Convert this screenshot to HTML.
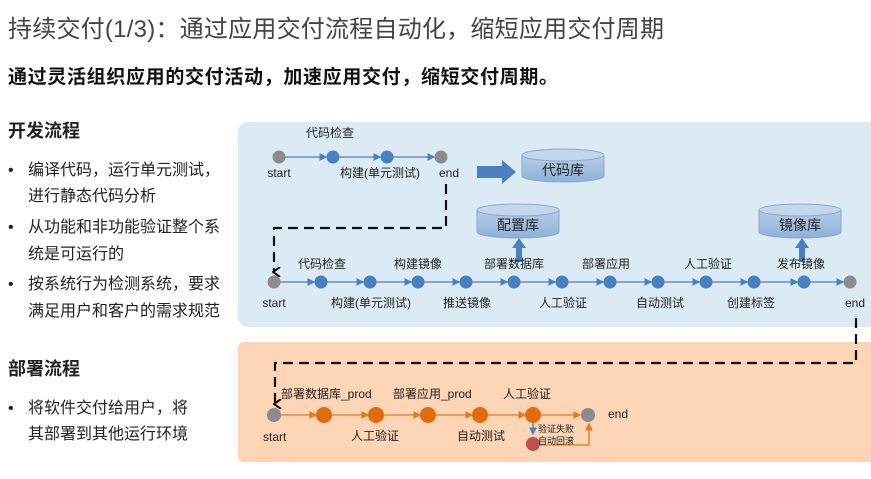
<!DOCTYPE html>
<html><head><meta charset="utf-8"><style>
body{margin:0;width:871px;height:474px;background:#fff;overflow:hidden;font-family:"Liberation Sans","Noto Sans CJK SC",sans-serif;}
svg text{font-family:"Liberation Sans","Noto Sans CJK SC",sans-serif;}
</style></head><body>
<svg width="871" height="474" viewBox="0 0 871 474" xmlns="http://www.w3.org/2000/svg">
<defs>
<marker id="ab" markerWidth="6" markerHeight="6" refX="5" refY="3" orient="auto"><path d="M0,0 L6,3 L0,6 z" fill="#4a7fc1"/></marker>
<marker id="ao" markerWidth="6" markerHeight="6" refX="5" refY="3" orient="auto"><path d="M0,0 L6,3 L0,6 z" fill="#e57a1a"/></marker>
<marker id="ak" markerWidth="10" markerHeight="10" refX="5" refY="8" orient="auto-start-reverse" markerUnits="userSpaceOnUse"><path d="M0,2 L5,9 L10,2" fill="none" stroke="#111" stroke-width="2"/></marker>
<linearGradient id="cy" x1="0" y1="0" x2="0" y2="1"><stop offset="0" stop-color="#b7cde6"/><stop offset="1" stop-color="#8fb0d8"/></linearGradient>
</defs>
<text x="8" y="37" font-size="24" fill="#444" textLength="656">持续交付(1/3)：通过应用交付流程自动化，缩短应用交付周期</text>
<text x="8" y="83" font-size="19" font-weight="bold" fill="#111" textLength="550">通过灵活组织应用的交付活动，加速应用交付，缩短交付周期。</text>
<g font-size="16" fill="#222">
<text x="8" y="137" font-weight="bold" font-size="18">开发流程</text>
<text x="8" y="175">•</text><text x="28" y="175">编译代码，运行单元测试，</text>
<text x="28" y="201">进行静态代码分析</text>
<text x="8" y="232">•</text><text x="28" y="232">从功能和非功能验证整个系</text>
<text x="28" y="259">统是可运行的</text>
<text x="8" y="289">•</text><text x="28" y="289">按系统行为检测系统，要求</text>
<text x="28" y="316">满足用户和客户的需求规范</text>
<text x="8" y="375" font-weight="bold" font-size="18">部署流程</text>
<text x="8" y="413">•</text><text x="28" y="413">将软件交付给用户，将</text>
<text x="28" y="439">其部署到其他运行环境</text>
</g>
<rect x="238" y="122" width="640" height="205" rx="10" fill="#dbeaf3"/>
<rect x="238" y="342" width="640" height="120" rx="6" fill="#fbd5b5"/>
<!-- row1 -->
<g stroke="#4a7fc1" stroke-width="1.3" marker-end="url(#ab)">
<line x1="285" y1="157" x2="326" y2="157"/><line x1="339" y1="157" x2="380" y2="157"/><line x1="393" y1="157" x2="434" y2="157"/>
</g>
<circle cx="279" cy="157" r="6.5" fill="#8c8c8c"/><circle cx="333" cy="157" r="6.5" fill="#4a7fc1"/><circle cx="387" cy="157" r="6.5" fill="#4a7fc1"/><circle cx="441" cy="157" r="6.5" fill="#8c8c8c"/>
<g font-size="12" fill="#222" text-anchor="middle">
<text x="330" y="137">代码检查</text><text x="279" y="177">start</text><text x="380" y="177">构建(单元测试)</text><text x="449" y="177">end</text>
</g>
<path d="M477,166 H502 V160 L516,172 L502,184 V178 H477 z" fill="#4a7fc1"/>
<g stroke="#8aa9cf" fill="url(#cy)">
<path d="M522,155 V176 A41,6 0 0 0 604,176 V155"/><ellipse cx="563" cy="155" rx="41" ry="6" fill="#c4d6ec"/>
<path d="M477,210 V232 A41,6 0 0 0 559,232 V210"/><ellipse cx="518" cy="210" rx="41" ry="6" fill="#c4d6ec"/>
<path d="M759,210 V232 A41,6 0 0 0 841,232 V210"/><ellipse cx="800" cy="210" rx="41" ry="6" fill="#c4d6ec"/>
</g>
<g font-size="14" fill="#222" text-anchor="middle"><text x="563" y="175">代码库</text><text x="518" y="230">配置库</text><text x="800" y="230">镜像库</text></g>
<path d="M516,262 V248 H512 L519,238 L526,248 H522 V262 z" fill="#4a7fc1"/>
<path d="M799,262 V248 H795 L802,238 L809,248 H805 V262 z" fill="#4a7fc1"/>
<!-- dashed -->
<path d="M446,184 V228 H274 V272" fill="none" stroke="#111" stroke-width="2.2" stroke-dasharray="10,6" marker-end="url(#ak)"/>
<path d="M856,318 V363 H275 V404" fill="none" stroke="#111" stroke-width="2.2" stroke-dasharray="10,6" marker-end="url(#ak)"/>
<!-- row2 -->
<g stroke="#4a7fc1" stroke-width="1.3" marker-end="url(#ab)">
<line x1="280" y1="282" x2="314" y2="282"/><line x1="327" y1="282" x2="363" y2="282"/><line x1="376" y1="282" x2="411" y2="282"/><line x1="424" y1="282" x2="459" y2="282"/><line x1="472" y1="282" x2="507" y2="282"/><line x1="520" y1="282" x2="555" y2="282"/><line x1="568" y1="282" x2="603" y2="282"/><line x1="616" y1="282" x2="651" y2="282"/><line x1="664" y1="282" x2="699" y2="282"/><line x1="712" y1="282" x2="747" y2="282"/><line x1="760" y1="282" x2="797" y2="282"/><line x1="810" y1="282" x2="843" y2="282"/>
</g>
<circle cx="274" cy="282" r="6.5" fill="#8c8c8c"/><circle cx="850" cy="282" r="6.5" fill="#8c8c8c"/>
<g fill="#4a7fc1"><circle cx="321" cy="282" r="6.5"/><circle cx="370" cy="282" r="6.5"/><circle cx="418" cy="282" r="6.5"/><circle cx="466" cy="282" r="6.5"/><circle cx="514" cy="282" r="6.5"/><circle cx="562" cy="282" r="6.5"/><circle cx="610" cy="282" r="6.5"/><circle cx="658" cy="282" r="6.5"/><circle cx="706" cy="282" r="6.5"/><circle cx="754" cy="282" r="6.5"/><circle cx="804" cy="282" r="6.5"/></g>
<g font-size="12" fill="#222" text-anchor="middle">
<text x="322" y="268">代码检查</text><text x="418" y="268">构建镜像</text><text x="514" y="268">部署数据库</text><text x="606" y="268">部署应用</text><text x="708" y="268">人工验证</text><text x="801" y="268">发布镜像</text>
<text x="274" y="307">start</text><text x="371" y="307">构建(单元测试)</text><text x="467" y="307">推送镜像</text><text x="563" y="307">人工验证</text><text x="660" y="307">自动测试</text><text x="751" y="307">创建标签</text><text x="855" y="307">end</text>
</g>
<!-- bottom row -->
<g stroke="#e57a1a" stroke-width="1.3" marker-end="url(#ao)">
<line x1="281" y1="415" x2="316" y2="415"/><line x1="332" y1="415" x2="368" y2="415"/><line x1="384" y1="415" x2="420" y2="415"/><line x1="436" y1="415" x2="472" y2="415"/><line x1="488" y1="415" x2="525" y2="415"/><line x1="541" y1="415" x2="580" y2="415"/>
<path d="M540,445 H589 V424" fill="none"/>
</g>
<line x1="533" y1="423" x2="533" y2="434" stroke="#4a7fc1" stroke-width="1.3" marker-end="url(#ab)"/>
<circle cx="274" cy="415" r="7" fill="#8c8c8c"/><circle cx="588" cy="415" r="7" fill="#8c8c8c"/>
<g fill="#e36c0a"><circle cx="324" cy="415" r="8"/><circle cx="376" cy="415" r="8"/><circle cx="428" cy="415" r="8"/><circle cx="480" cy="415" r="8"/><circle cx="533" cy="415" r="8"/></g>
<circle cx="533" cy="444" r="7" fill="#c0504d"/>
<g font-size="12" fill="#222">
<text x="281" y="398">部署数据库_prod</text><text x="393" y="398">部署应用_prod</text><text x="503" y="398">人工验证</text>
<text x="263" y="441">start</text><text x="351" y="440">人工验证</text><text x="457" y="440">自动测试</text><text x="608" y="418">end</text>
<text x="538" y="432" font-size="9">验证失败</text><text x="538" y="444" font-size="9">自动回滚</text>
</g>
</svg>
</body></html>
